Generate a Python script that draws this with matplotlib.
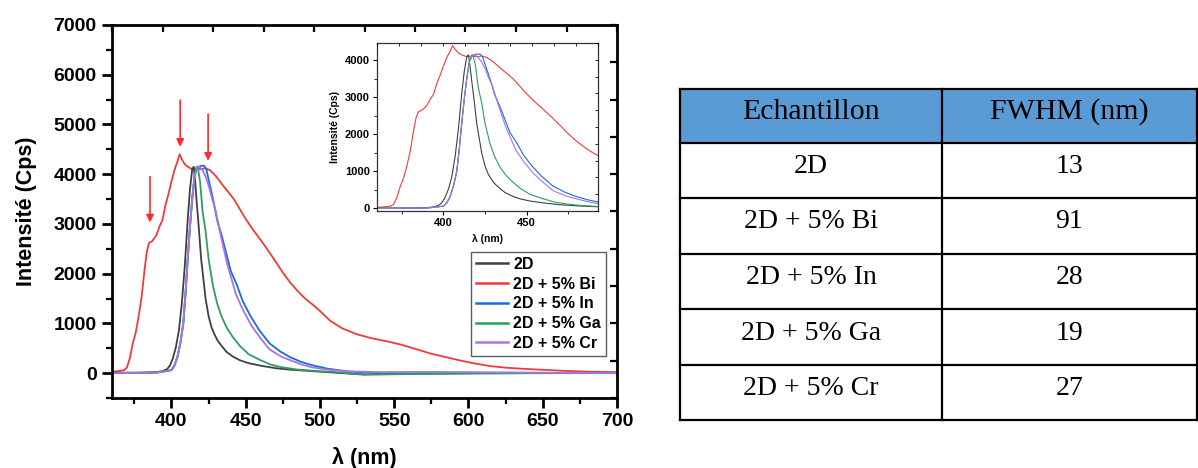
import matplotlib
matplotlib.use('Agg')
import matplotlib.pyplot as plt
from matplotlib.patches import Rectangle
from matplotlib.ticker import MultipleLocator, FixedLocator

plt.rcParams['font.family'] = ['Liberation Sans', 'DejaVu Sans']

# ---------------- data ----------------
series_labels = ['2D', '2D + 5% Bi', '2D + 5% In', '2D + 5% Ga', '2D + 5% Cr']
series_colors = ['#404040', '#ef3b3b', '#1a6be0', '#2c9f5e', '#a774e3']

wl_2d = [360, 380, 390, 394, 397, 399, 401, 403, 405, 407, 409, 411, 412.5, 414, 415, 416, 417,
         418.5, 420, 421.5, 423, 425, 427, 429, 431, 434, 437, 441, 446, 452, 460, 470, 480, 490,
         500, 510, 520, 530, 545, 560, 600, 650, 700]
int_2d = [10, 10, 20, 40, 80, 150, 300, 520, 850, 1400, 2150, 3100, 3700, 4100, 4150, 3850, 3450,
          2900, 2300, 1900, 1500, 1150, 920, 780, 660, 540, 430, 340, 260, 200, 150, 100, 70, 50,
          30, 10, -10, -30, -20, -10, 0, 0, 0]

wl_bi = [360, 364, 368, 370, 372, 374, 376, 378, 380, 382, 383.5, 385, 387, 390, 392, 394, 396,
         398, 400, 402, 404, 405.5, 407, 409, 411, 414, 417, 420, 423, 426, 430, 434, 438, 442,
         446, 450, 455, 460, 465, 470, 475, 480, 485, 490, 495, 500, 507, 515, 525, 535, 545, 555,
         565, 575, 585, 595, 605, 615, 625, 635, 645, 655, 665, 680, 700]
int_bi = [30, 40, 60, 110, 300, 600, 820, 1150, 1550, 2100, 2450, 2620, 2650, 2780, 2950, 3080,
          3380, 3600, 3850, 4080, 4250, 4400, 4300, 4200, 4150, 4100, 4120, 4100, 4120, 4080, 3960,
          3800, 3650, 3500, 3300, 3100, 2880, 2680, 2470, 2250, 2020, 1820, 1650, 1500, 1380,
          1250, 1050, 900, 780, 700, 640, 570, 480, 390, 320, 250, 190, 140, 110, 90, 75, 60, 45,
          30, 20]

wl_in = [360, 390, 400, 402, 404, 406, 408, 409.5, 411, 412.5, 414, 415.5, 417, 418.5, 420, 422,
         423.5, 425, 428, 431, 434, 437, 440, 444, 448, 453, 459, 466, 473, 480, 487, 494, 505,
         520, 540, 560, 600, 650, 700]
int_in = [0, 10, 60, 150, 320, 600, 1000, 1600, 2300, 2950, 3500, 3950, 4100, 4150, 4170, 4170,
          4100, 3900, 3500, 3050, 2750, 2400, 2050, 1780, 1450, 1160, 870, 600, 440, 320, 230,
          165, 90, 30, 0, -10, 0, 5, 0]

wl_ga = [360, 390, 400, 402, 404, 406, 408, 409.5, 411, 412.5, 414, 415.5, 417, 418, 419.3, 421,
         423, 425, 428, 431, 434, 437.5, 441, 446, 452, 460, 467, 474, 484, 494, 510, 525, 545,
         570, 600, 650, 700]
int_ga = [0, 10, 60, 150, 320, 600, 1000, 1600, 2300, 2950, 3500, 3950, 4150, 4100, 3850, 3250,
          2850, 2300, 1750, 1380, 1120, 900, 740, 550, 380, 260, 170, 120, 75, 50, 20, -20, -25,
          -15, -10, 0, 0]

wl_cr = [360, 390, 400, 402, 404, 406, 408, 409.5, 411, 412.5, 414, 415.5, 417.5, 419, 421, 423,
         425, 427, 429.5, 433, 437.5, 443.5, 448, 454, 460, 466, 474, 480, 487, 494, 505, 520, 540,
         570, 600, 650, 700]
int_cr = [0, 10, 60, 150, 320, 600, 1000, 1600, 2300, 2950, 3500, 3950, 4150, 4150, 4080, 3950,
          3780, 3550, 3300, 2800, 2200, 1580, 1280, 950, 700, 480, 330, 260, 180, 120, 70, 35, 20,
          25, 20, 10, 0]

series_wl = [wl_2d, wl_bi, wl_in, wl_ga, wl_cr]
series_int = [int_2d, int_bi, int_in, int_ga, int_cr]

arrow_x = [385.6, 405.9, 424.7]
arrow_tail = [3950, 5490, 5210]
arrow_head = [3030, 4550, 4270]

x_ticks = [400, 450, 500, 550, 600, 650, 700]
y_ticks = [0, 1000, 2000, 3000, 4000, 5000, 6000, 7000]
inset_x_ticks = [400, 450]
inset_y_ticks = [0, 1000, 2000, 3000, 4000]

table_header = ['Echantillon', 'FWHM (nm)']
table_samples = ['2D', '2D + 5% Bi', '2D + 5% In', '2D + 5% Ga', '2D + 5% Cr']
table_fwhm = ['13', '91', '28', '19', '27']

# ---------------- figure ----------------
W, H = 1198, 468
fig = plt.figure(figsize=(W / 100, H / 100), dpi=100)

ax = fig.add_axes([112 / W, 1 - 398 / H, 505 / W, 373 / H])
draw_order = [1, 0, 2, 3, 4]
handles = {}
for i in draw_order:
    ln, = ax.plot(series_wl[i], series_int[i], color=series_colors[i], lw=1.3,
                  label=series_labels[i])
    handles[i] = ln
ax.set_xlim(360, 700)
ax.set_ylim(-500, 7000)
ax.xaxis.set_major_locator(FixedLocator(x_ticks))
ax.xaxis.set_minor_locator(MultipleLocator(25))
ax.yaxis.set_major_locator(FixedLocator(y_ticks))
ax.yaxis.set_minor_locator(MultipleLocator(500))
ax.tick_params(axis='both', which='major', direction='out', length=7, width=2,
               labelsize=14, pad=4)
ax.tick_params(axis='both', which='minor', direction='out', length=4, width=1.6)
for lab in ax.get_xticklabels() + ax.get_yticklabels():
    lab.set_fontweight('bold')
for s in ax.spines.values():
    s.set_linewidth(2)
ax.set_xlabel('λ (nm)', fontsize=15.5, fontweight='bold', labelpad=12)
ax.set_ylabel('Intensité (Cps)', fontsize=15.5, fontweight='bold', labelpad=12)

# top / right inward ticks (independent scales, no labels)
axt = ax.twiny()
axt.set_xlim(0, 10)
axt.xaxis.set_major_locator(MultipleLocator(1))
axt.tick_params(axis='x', direction='in', length=5, width=1.6, labeltop=False, top=True)
axr = ax.twinx()
axr.set_ylim(0, 10)
axr.yaxis.set_major_locator(MultipleLocator(1))
axr.tick_params(axis='y', direction='in', length=5, width=1.6, labelright=False, right=True)
for a in (axt, axr):
    for s in a.spines.values():
        s.set_visible(False)

for xa, yt, yh in zip(arrow_x, arrow_tail, arrow_head):
    ax.annotate('', xy=(xa, yh), xytext=(xa, yt),
                arrowprops=dict(arrowstyle='-|>', color='#ff2a2a', lw=1.2,
                                mutation_scale=11, shrinkA=0, shrinkB=0))

leg = ax.legend([handles[i] for i in range(5)], series_labels, loc='lower right',
                bbox_to_anchor=(0.978, 0.113), borderaxespad=0, fancybox=False,
                frameon=True, edgecolor='#333333', handlelength=2.0, handletextpad=0.35,
                labelspacing=0.3, borderpad=0.3, prop={'weight': 'bold', 'size': 11.5})
leg.get_frame().set_linewidth(1.0)
for l in leg.get_lines():
    l.set_linewidth(1.8)

# ---------------- inset ----------------
ai = fig.add_axes([377 / W, 1 - 211 / H, 221 / W, 168 / H])
for i in draw_order:
    ai.plot(series_wl[i], series_int[i], color=series_colors[i], lw=0.8)
ai.set_xlim(360, 493)
ai.set_ylim(-70, 4470)
ai.xaxis.set_major_locator(FixedLocator(inset_x_ticks))
ai.xaxis.set_minor_locator(FixedLocator([375, 425, 475]))
ai.yaxis.set_major_locator(FixedLocator(inset_y_ticks))
ai.yaxis.set_minor_locator(MultipleLocator(500))
ai.tick_params(axis='both', which='major', direction='out', length=3, width=0.8,
               labelsize=8, pad=2)
ai.tick_params(axis='both', which='minor', direction='out', length=2, width=0.6)
for lab in ai.get_xticklabels() + ai.get_yticklabels():
    lab.set_fontweight('bold')
for s in ai.spines.values():
    s.set_linewidth(0.9)
    s.set_color('#333333')
ai.set_xlabel('λ (nm)', fontsize=7.5, fontweight='bold', labelpad=4)
ai.set_ylabel('Intensité (Cps)', fontsize=7.5, fontweight='bold', labelpad=4)
ait = ai.twiny()
ait.set_xlim(0, 10)
ait.xaxis.set_major_locator(MultipleLocator(1))
ait.tick_params(axis='x', direction='in', length=2, width=0.6, labeltop=False)
air = ai.twinx()
air.set_ylim(0, 10)
air.yaxis.set_major_locator(MultipleLocator(1))
air.tick_params(axis='y', direction='in', length=2, width=0.6, labelright=False)
for a in (ait, air):
    for s in a.spines.values():
        s.set_visible(False)

# ---------------- table ----------------
tab = fig.add_axes([0, 0, 1, 1])
tab.set_xlim(0, W)
tab.set_ylim(H, 0)
tab.axis('off')
x_left, x_mid, x_right = 680, 942, 1197
row_edges = [89, 143, 198, 254, 309, 365, 420]
tab.add_patch(Rectangle((x_left, row_edges[0]), x_right - x_left, row_edges[1] - row_edges[0],
                        facecolor='#5b9bd5', edgecolor='none'))
for y in row_edges:
    tab.plot([x_left, x_right], [y, y], color='black', lw=1.6, solid_capstyle='projecting')
for x in (x_left, x_mid, x_right):
    tab.plot([x, x], [row_edges[0], row_edges[-1]], color='black', lw=1.6,
             solid_capstyle='projecting')
serif = ['Liberation Serif', 'DejaVu Serif']
c1 = (x_left + x_mid) / 2
c2 = (x_mid + x_right) / 2
tab.text(c1, (row_edges[0] + row_edges[1]) / 2 - 4, table_header[0], ha='center', va='center',
         fontsize=21.5, family=serif)
tab.text(c2, (row_edges[0] + row_edges[1]) / 2 - 4, table_header[1], ha='center', va='center',
         fontsize=21.5, family=serif)
for k, (s, f) in enumerate(zip(table_samples, table_fwhm)):
    yc = (row_edges[k + 1] + row_edges[k + 2]) / 2 - 4
    tab.text(c1, yc, s, ha='center', va='center', fontsize=20, family=serif)
    tab.text(c2, yc, f, ha='center', va='center', fontsize=20, family=serif)

fig.savefig('out.png', dpi=100)
